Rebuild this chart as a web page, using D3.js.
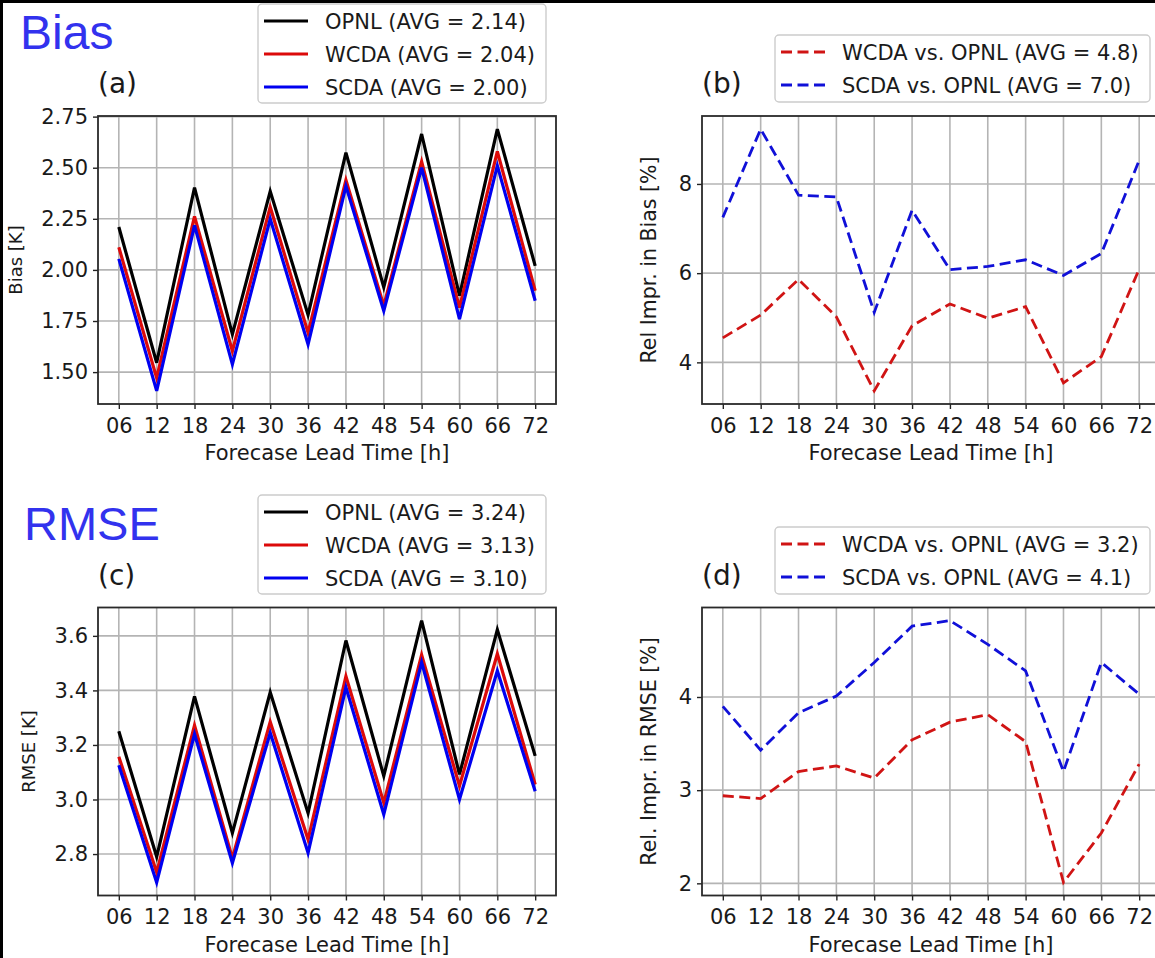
<!DOCTYPE html>
<html>
<head>
<meta charset="utf-8">
<script src="https://cdn.jsdelivr.net/npm/d3@7"></script>
<style>
  html, body { margin: 0; padding: 0; background: #fff; }
  svg { display: block; }
  text { font-family: "DejaVu Sans", sans-serif; fill: #1a1a1a; }
</style>
</head>
<body>
<svg id="chart" width="1155" height="958"></svg>
<script>
// ---------------- DATA ----------------
const leadTimes = ["06","12","18","24","30","36","42","48","54","60","66","72"];

const biasOPNL = [2.21, 1.546, 2.403, 1.685, 2.385, 1.78, 2.574, 1.915, 2.665, 1.874, 2.689, 2.02];
const biasWCDA = [2.111, 1.472, 2.262, 1.603, 2.308, 1.693, 2.44, 1.825, 2.53, 1.816, 2.58, 1.898];
const biasSCDA = [2.054, 1.408, 2.218, 1.538, 2.25, 1.636, 2.41, 1.80, 2.50, 1.759, 2.51, 1.849];

const rmseOPNL = [3.25, 2.79, 3.378, 2.877, 3.393, 2.95, 3.583, 3.086, 3.656, 3.092, 3.623, 3.16];
const rmseWCDA = [3.157, 2.733, 3.272, 2.785, 3.285, 2.853, 3.452, 2.988, 3.53, 3.05, 3.534, 3.055];
const rmseSCDA = [3.126, 2.696, 3.24, 2.767, 3.245, 2.804, 3.411, 2.945, 3.503, 3.0, 3.472, 3.03];

const biasImprWCDA = [4.55, 5.06, 5.86, 5.02, 3.36, 4.82, 5.31, 4.99, 5.25, 3.54, 4.13, 6.09];
const biasImprSCDA = [7.25, 9.23, 7.75, 7.71, 5.12, 7.41, 6.08, 6.15, 6.30, 5.95, 6.44, 8.53];

const rmseImprWCDA = [2.94, 2.91, 3.20, 3.26, 3.13, 3.54, 3.73, 3.81, 3.52, 2.01, 2.54, 3.28];
const rmseImprSCDA = [3.90, 3.43, 3.83, 4.01, 4.37, 4.76, 4.82, 4.565, 4.28, 3.20, 4.37, 4.03];

const biasTicks = [1.50, 1.75, 2.00, 2.25, 2.50, 2.75];
const rmseTicks = [2.8, 3.0, 3.2, 3.4, 3.6];
const biasImprTicks = [4, 6, 8];
const rmseImprTicks = [2, 3, 4];

const biasLegend = ["OPNL (AVG = 2.14)", "WCDA (AVG = 2.04)", "SCDA (AVG = 2.00)"];
const rmseLegend = ["OPNL (AVG = 3.24)", "WCDA (AVG = 3.13)", "SCDA (AVG = 3.10)"];
const biasImprLegend = ["WCDA vs. OPNL (AVG = 4.8)", "SCDA vs. OPNL (AVG = 7.0)"];
const rmseImprLegend = ["WCDA vs. OPNL (AVG = 3.2)", "SCDA vs. OPNL (AVG = 4.1)"];

const xLabel = "Forecase Lead Time [h]";

// ---------------- STYLE ----------------
const C_BLACK = "#000000", C_RED = "#dc0a0a", C_BLUE = "#0000f0";
const C_RED_D = "#d01414", C_BLUE_D = "#1010d8";

const svg = d3.select("#chart");

function panel(opt) {
  const {x0, y0, w, h, series, ticks, fmt, ylabel, tag, legend, legendBox, dashed} = opt;
  const g = svg.append("g");
  const allVals = series.flatMap(s => s.values);
  const mn = d3.min(allVals), mx = d3.max(allVals), pad = (mx - mn) * 0.05;
  const n = leadTimes.length;
  const xs = d3.scaleLinear().domain([-0.55, n - 1 + 0.55]).range([x0, x0 + w]);
  const ys = d3.scaleLinear().domain([mn - pad, mx + pad]).range([y0 + h, y0]);

  // grid
  g.append("g").selectAll("line.vx").data(leadTimes).join("line")
    .attr("x1", (d, i) => xs(i)).attr("x2", (d, i) => xs(i))
    .attr("y1", y0).attr("y2", y0 + h)
    .attr("stroke", "#b4b4b4").attr("stroke-width", 1.6);
  g.append("g").selectAll("line.hy").data(ticks).join("line")
    .attr("x1", x0).attr("x2", x0 + w)
    .attr("y1", d => ys(d)).attr("y2", d => ys(d))
    .attr("stroke", "#b4b4b4").attr("stroke-width", 1.6);

  // series
  const line = d3.line().x((d, i) => xs(i)).y(d => ys(d));
  series.forEach(s => {
    g.append("path").datum(s.values).attr("d", line)
      .attr("fill", "none").attr("stroke", s.color)
      .attr("stroke-width", dashed ? 2.8 : 3.2)
      .attr("stroke-linejoin", "miter")
      .attr("stroke-dasharray", dashed ? "11,5.5" : null);
  });

  // axes
  const xAxis = d3.axisBottom(xs).tickValues(d3.range(n)).tickFormat(i => leadTimes[i])
    .tickSize(5).tickPadding(9);
  const gx = g.append("g").attr("transform", `translate(0,${y0 + h})`).call(xAxis);
  const yAxis = d3.axisLeft(ys).tickValues(ticks).tickFormat(d3.format(fmt))
    .tickSize(5).tickPadding(5);
  const gy = g.append("g").attr("transform", `translate(${x0},0)`).call(yAxis);
  [gx, gy].forEach(a => {
    a.select(".domain").remove();
    a.selectAll(".tick line").attr("stroke", "#222").attr("stroke-width", 1.4);
    a.selectAll(".tick text").attr("font-size", 21).attr("fill", "#1a1a1a")
      .attr("font-family", "DejaVu Sans");
  });

  // frame
  g.append("rect").attr("x", x0).attr("y", y0).attr("width", w).attr("height", h)
    .attr("fill", "none").attr("stroke", "#2a2a2a").attr("stroke-width", 1.8);

  // labels
  g.append("text").attr("x", x0 + w / 2).attr("y", y0 + h + 56)
    .attr("text-anchor", "middle").attr("font-size", 21).text(xLabel);
  g.append("text")
    .attr("transform", `translate(${opt.ylabelX},${y0 + h / 2}) rotate(-90)`)
    .attr("text-anchor", "middle").attr("font-size", opt.ylabelSize).text(ylabel);
  g.append("text").attr("x", x0).attr("y", y0 - 23)
    .attr("font-size", 28).text(tag);

  // legend
  const lb = legendBox;
  const lg = svg.append("g");
  lg.append("rect").attr("x", lb.x).attr("y", lb.y).attr("width", lb.w).attr("height", lb.h)
    .attr("rx", 4).attr("fill", "#fff").attr("stroke", "#cccccc").attr("stroke-width", 1.4);
  series.forEach((s, i) => {
    const cy = lb.y + 17 + i * 33;
    lg.append("line").attr("x1", lb.x + 6).attr("x2", lb.x + 50)
      .attr("y1", cy).attr("y2", cy).attr("stroke", s.color)
      .attr("stroke-width", dashed ? 2.8 : 3.2)
      .attr("stroke-dasharray", dashed ? "11,5.5" : null);
    lg.append("text").attr("x", lb.x + 67).attr("y", cy + 7.5)
      .attr("font-size", 21).text(legend[i]);
  });
}

const W = 458, H = 288;

panel({
  x0: 98, y0: 116, w: W, h: H,
  series: [{values: biasOPNL, color: C_BLACK}, {values: biasWCDA, color: C_RED}, {values: biasSCDA, color: C_BLUE}],
  ticks: biasTicks, fmt: ".2f", ylabel: "Bias [K]", ylabelX: 22, ylabelSize: 18, tag: "(a)",
  legend: biasLegend, legendBox: {x: 258, y: 4, w: 288, h: 99}, dashed: false
});
panel({
  x0: 702, y0: 116, w: W, h: H,
  series: [{values: biasImprWCDA, color: C_RED_D}, {values: biasImprSCDA, color: C_BLUE_D}],
  ticks: biasImprTicks, fmt: "d", ylabel: "Rel Impr. in Bias [%]", ylabelX: 656, ylabelSize: 20.5, tag: "(b)",
  legend: biasImprLegend, legendBox: {x: 775, y: 35, w: 375, h: 67}, dashed: true
});
panel({
  x0: 98, y0: 607.5, w: W, h: H,
  series: [{values: rmseOPNL, color: C_BLACK}, {values: rmseWCDA, color: C_RED}, {values: rmseSCDA, color: C_BLUE}],
  ticks: rmseTicks, fmt: ".1f", ylabel: "RMSE [K]", ylabelX: 35, ylabelSize: 18, tag: "(c)",
  legend: rmseLegend, legendBox: {x: 258, y: 495, w: 288, h: 99}, dashed: false
});
panel({
  x0: 702, y0: 607.5, w: W, h: H,
  series: [{values: rmseImprWCDA, color: C_RED_D}, {values: rmseImprSCDA, color: C_BLUE_D}],
  ticks: rmseImprTicks, fmt: "d", ylabel: "Rel. Impr. in RMSE [%]", ylabelX: 656, ylabelSize: 20.5, tag: "(d)",
  legend: rmseImprLegend, legendBox: {x: 775, y: 527, w: 375, h: 67}, dashed: true
});

// big section titles
svg.append("text").attr("x", 20).attr("y", 49)
  .style("font-family", "'Liberation Sans', Arial, sans-serif").style("fill", "#3232ee")
  .attr("font-size", 48).text("Bias");
svg.append("text").attr("x", 24).attr("y", 540)
  .style("font-family", "'Liberation Sans', Arial, sans-serif").style("fill", "#3232ee")
  .attr("font-size", 47).text("RMSE");

// black border strips (top / left)
svg.append("rect").attr("x", 0).attr("y", 0).attr("width", 1155).attr("height", 3).attr("fill", "#000");
svg.append("rect").attr("x", 0).attr("y", 0).attr("width", 3).attr("height", 958).attr("fill", "#000");
</script>
</body>
</html>
